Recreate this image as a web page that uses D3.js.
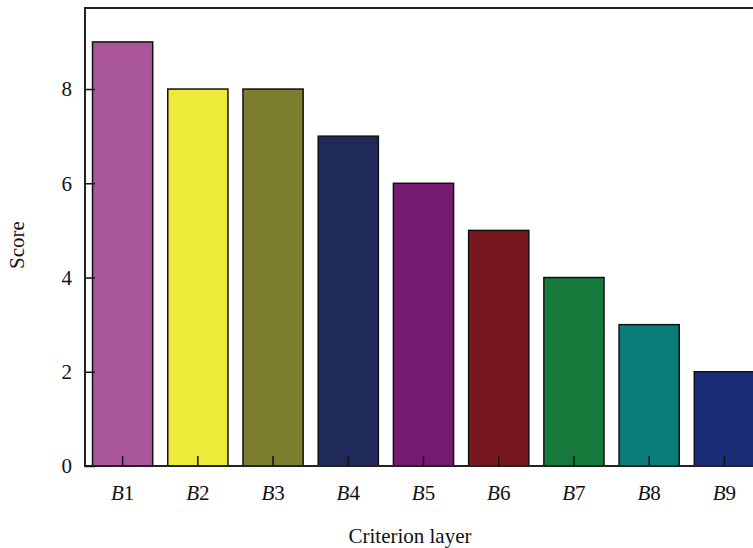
<!DOCTYPE html>
<html><head><meta charset="utf-8">
<script src="https://cdn.jsdelivr.net/npm/d3@7"></script>
<style>body{margin:0;background:#fff}svg{display:block}</style>
</head><body>
<svg id="c" width="753" height="548"></svg>
<script>
const categories = ["1","2","3","4","5","6","7","8","9"];
const scores = [9, 8, 8, 7, 6, 5, 4, 3, 2];
const colors = ["#a9559b","#eeea3a","#7d7d30","#1f2a5a","#761b72","#79171f","#177a3d","#0a7d7a","#1b2d78"];
const yTicks = [0, 2, 4, 6, 8];

(function(){
const svg = d3.select("#c");
const pL = 85, pR = 762, pT = 8, pB = 466;
const font = "'Liberation Serif','Times New Roman',serif";

const x = d3.scaleBand().domain(categories).range([pL, pR]).paddingInner(0.2).paddingOuter(0.1);
const y = d3.scaleLinear().domain([0, 9.72]).range([pB, pT]);

svg.selectAll("rect.bar").data(scores).enter().append("rect")
  .attr("class","bar")
  .attr("x", (d,i) => x(categories[i]))
  .attr("y", d => y(d))
  .attr("width", x.bandwidth())
  .attr("height", d => y(0) - y(d))
  .attr("fill", (d,i) => colors[i])
  .attr("stroke", "#111").attr("stroke-width", 1.5);

svg.append("path").attr("d", `M${pR},${pT}H${pL}V${pB}H${pR}`)
  .attr("fill","none").attr("stroke","#222").attr("stroke-width",2);

const ya = svg.append("g").attr("transform", `translate(${pL},0)`)
  .call(d3.axisRight(y).tickValues(yTicks).tickSize(10).tickFormat(""));
ya.select(".domain").remove();
ya.selectAll(".tick line").attr("stroke","#111").attr("stroke-width",1.5);
svg.selectAll("text.ytick").data(yTicks).enter().append("text")
  .attr("class","ytick").attr("x", 72).attr("y", d => y(d)).attr("dy","0.35em")
  .attr("text-anchor","end").attr("font-family",font).attr("font-size",21).attr("fill","#111")
  .text(d => d);

const xa = svg.append("g").attr("transform", `translate(0,${pB})`)
  .call(d3.axisTop(x).tickSize(10).tickFormat(""));
xa.select(".domain").remove();
xa.selectAll(".tick line").attr("stroke","#111").attr("stroke-width",1.5);
const xl = svg.selectAll("text.xtick").data(categories).enter().append("text")
  .attr("class","xtick").attr("x", d => x(d) + x.bandwidth()/2).attr("y", 500)
  .attr("text-anchor","middle").attr("font-family",font).attr("font-size",21).attr("fill","#111");
xl.append("tspan").attr("font-style","italic").text("B");
xl.append("tspan").text(d => d);

svg.append("text").attr("x", 410).attr("y", 543).attr("text-anchor","middle")
  .attr("font-family",font).attr("font-size",21).attr("fill","#111").text("Criterion layer");
svg.append("text").attr("transform","translate(24,245) rotate(-90)").attr("text-anchor","middle")
  .attr("font-family",font).attr("font-size",21).attr("fill","#111").text("Score");
})();
</script>
</body></html>
